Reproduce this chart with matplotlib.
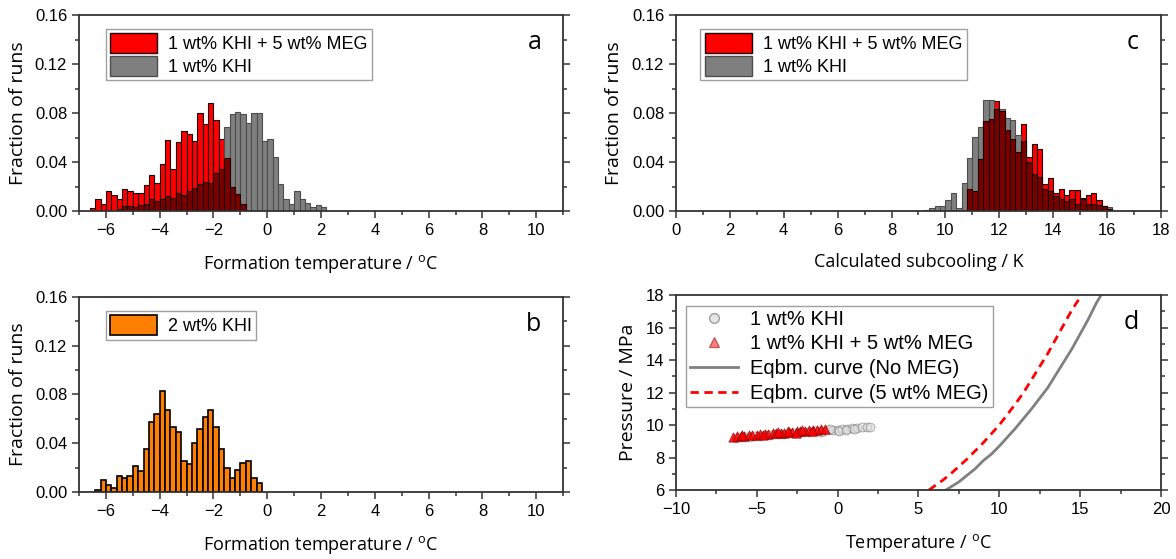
import matplotlib
matplotlib.use("Agg")
import matplotlib.pyplot as plt
import numpy as np
from matplotlib.patches import Patch
from matplotlib.lines import Line2D
from matplotlib.ticker import MultipleLocator, FormatStrFormatter

# histogram bins are 0.2 wide; first bin centre for each data set
BIN = 0.2

# a) formation temperature, 1 wt% KHI + 5 wt% MEG (bins centred -6.5 ... -0.9)
a_meg_start = -6.5
a_meg = [0.0027, 0.0095, 0.006, 0.0163, 0.0128, 0.0095, 0.0177, 0.0163, 0.015, 0.015,
         0.021, 0.0297, 0.0229, 0.038, 0.058, 0.0345, 0.0563, 0.065, 0.063, 0.057,
         0.080, 0.0713, 0.088, 0.0745, 0.059, 0.043, 0.0196, 0.014, 0.006]

# a) formation temperature, 1 wt% KHI (bins centred -5.5 ... 2.1)
a_khi_start = -5.5
a_khi = [0.002, 0.004, 0.004, 0.003, 0.005, 0.006, 0.010, 0.008, 0.010, 0.012,
         0.011, 0.015, 0.013, 0.016, 0.019, 0.022, 0.024, 0.023, 0.031, 0.034,
         0.069, 0.079, 0.081, 0.079, 0.072, 0.080, 0.080, 0.057, 0.059, 0.044,
         0.022, 0.010, 0.006, 0.0166, 0.010, 0.0066, 0.0033, 0.0046, 0.003]

# b) formation temperature, 2 wt% KHI (bins centred -6.3 ... -0.3)
b_start = -6.3
b_khi2 = [0.0016, 0.0098, 0.0055, 0.0036, 0.0134, 0.0112, 0.0134, 0.0216, 0.0175, 0.0355,
          0.0574, 0.0637, 0.0831, 0.0673, 0.0536, 0.0495, 0.0257, 0.023, 0.040, 0.0517,
          0.0612, 0.0675, 0.0536, 0.0355, 0.0194, 0.0112, 0.0178, 0.0235, 0.0257, 0.0112,
          0.0071]

# c) calculated subcooling, 1 wt% KHI + 5 wt% MEG (bins centred 10.9 ... 16.1)
c_meg_start = 10.9
c_meg = [0.0177, 0.016, 0.0427, 0.0732, 0.0748, 0.090, 0.082, 0.066, 0.059, 0.048,
         0.071, 0.044, 0.055, 0.051, 0.022, 0.027, 0.015, 0.018, 0.013, 0.017,
         0.017, 0.011, 0.013, 0.015, 0.009, 0.004, 0.002]

# c) calculated subcooling, 1 wt% KHI (bins centred 9.3 ... 16.1)
c_khi_start = 9.3
c_khi = [0.001, 0.0024, 0.0038, 0.0038, 0.0092, 0.0147, 0.0024, 0.0231, 0.0433, 0.0604,
         0.0686, 0.0909, 0.0909, 0.083, 0.083, 0.076, 0.074, 0.062, 0.057, 0.040,
         0.030, 0.028, 0.018, 0.016, 0.012, 0.010, 0.008, 0.010, 0.006, 0.010,
         0.006, 0.006, 0.005, 0.004, 0.003]

# d) formation points (temperature in C, pressure in MPa)
khi_T = [-6.3, -6.0, -5.7, -5.4, -5.1, -4.8, -4.5, -4.2, -3.9, -3.6, -3.3, -3.0, -2.7,
         -2.4, -2.1, -1.8, -1.5, -1.2, -0.9, -0.6, -0.3, 0.0, 0.3, 0.6, 0.9, 1.2, 1.5,
         1.8, 2.0, -1.4, -1.0, -0.5, 0.1, 0.5, 1.0]
khi_P = [9.21, 9.24, 9.28, 9.29, 9.31, 9.35, 9.36, 9.38, 9.42, 9.44, 9.45, 9.49, 9.50,
         9.53, 9.56, 9.58, 9.60, 9.63, 9.66, 9.68, 9.70, 9.72, 9.75, 9.77, 9.80, 9.83, 9.85,
         9.88, 9.90, 9.66, 9.58, 9.74, 9.66, 9.72, 9.75]
meg_T = [-6.5, -6.2, -6.0, -5.8, -5.5, -5.3, -5.0, -4.8, -4.5, -4.3, -4.0, -3.8, -3.5,
         -3.3, -3.0, -2.8, -2.5, -2.3, -2.0, -1.8, -1.5, -1.3, -1.0, -0.8,
         -5.9, -4.6, -3.7, -3.1, -2.6, -2.2, -1.6]
meg_P = [9.27, 9.30, 9.31, 9.33, 9.36, 9.37, 9.40, 9.42, 9.44, 9.46, 9.48, 9.50, 9.53,
         9.54, 9.57, 9.58, 9.61, 9.63, 9.65, 9.67, 9.70, 9.71, 9.74, 9.76,
         9.38, 9.36, 9.55, 9.66, 9.52, 9.72, 9.62]

# d) hydrate equilibrium curves
eq_T = [6.7, 7.5, 8.0, 8.5, 9.0, 9.5, 10.0, 10.5, 11.0, 11.5, 12.0, 12.5, 13.0, 13.5,
        14.0, 14.5, 15.0, 15.5, 16.0, 16.3]
eq_P = [6.0, 6.5, 6.9, 7.3, 7.8, 8.2, 8.7, 9.25, 9.8, 10.4, 11.0, 11.65, 12.3, 13.1,
        13.9, 14.7, 15.6, 16.5, 17.5, 18.0]
eq_meg_T = [5.65, 6.0, 6.5, 7.0, 7.5, 8.0, 8.5, 9.0, 9.5, 10.0, 10.5, 11.0, 11.5, 12.0,
            12.5, 13.0, 13.5, 14.0, 14.5, 15.1]
eq_meg_P = [6.0, 6.25, 6.6, 7.0, 7.45, 7.9, 8.4, 8.9, 9.45, 10.0, 10.65, 11.3, 12.0, 12.8,
            13.6, 14.4, 15.3, 16.2, 17.1, 18.0]

RED = "#ff0000"
GREY = "#7f7f7f"
DARK = "#7a0000"
ORANGE = "#ff8000"
LBL = "Open Sans"

plt.rcParams["font.family"] = ["Liberation Sans", "DejaVu Sans"]
plt.rcParams["axes.linewidth"] = 1.3
plt.rcParams["axes.edgecolor"] = "#333333"


def centres(start, vals):
    return start + BIN * np.arange(len(vals))


def style_axes(ax, xmaj, xmin, ymaj, ymin):
    ax.xaxis.set_major_locator(MultipleLocator(xmaj))
    ax.xaxis.set_minor_locator(MultipleLocator(xmin))
    ax.yaxis.set_major_locator(MultipleLocator(ymaj))
    ax.yaxis.set_minor_locator(MultipleLocator(ymin))
    ax.tick_params(which="both", direction="out", right=True, top=False,
                   labelsize=12, width=1.1, color="#333333")
    ax.tick_params(which="major", length=5)
    ax.tick_params(which="minor", length=3)


def overlap_hist(ax, meg_start, meg, khi_start, khi):
    xm = centres(meg_start, meg)
    xk = centres(khi_start, khi)
    ax.bar(xm, meg, width=BIN, color=RED, edgecolor="#1a0000", linewidth=0.8)
    ax.bar(xk, khi, width=BIN, color=GREY, edgecolor="#4d4d4d", linewidth=0.8)
    # the shared part of both distributions
    both = dict(zip(np.round(xm, 1), meg))
    ox, oy = [], []
    for x, v in zip(np.round(xk, 1), khi):
        if x in both:
            ox.append(x)
            oy.append(min(v, both[x]))
    ax.bar(ox, oy, width=BIN, color=DARK, edgecolor="#1a0000", linewidth=0.8)


def hist_legend(ax, loc_x):
    handles = [Patch(facecolor=RED, edgecolor="#1a0000"),
               Patch(facecolor=GREY, edgecolor="#4d4d4d")]
    ax.legend(handles, ["1 wt% KHI + 5 wt% MEG", "1 wt% KHI"], loc="upper left",
              bbox_to_anchor=(loc_x, 0.93), fontsize=13, fancybox=False,
              edgecolor="#888888", handlelength=2.6, handleheight=1.3,
              borderpad=0.25, labelspacing=0.15, handletextpad=0.6, borderaxespad=0)


def panel_letter(ax, s):
    ax.text(0.955, 0.86, s, transform=ax.transAxes, family=LBL, fontsize=18,
            ha="right", va="center")


def frac_axes(ax, xlabel):
    ax.set_ylim(0, 0.16)
    ax.yaxis.set_major_formatter(FormatStrFormatter("%.2f"))
    ax.set_xlabel(xlabel, family=LBL, fontsize=13, labelpad=11)
    ax.set_ylabel("Fraction of runs", family=LBL, fontsize=14, labelpad=6)


fig = plt.figure(figsize=(11.76, 5.59), dpi=100)
ax_a = fig.add_axes([0.0672, 0.6225, 0.4116, 0.3506])
ax_b = fig.add_axes([0.0672, 0.1199, 0.4116, 0.3488])
ax_c = fig.add_axes([0.5748, 0.6225, 0.4124, 0.3506])
ax_d = fig.add_axes([0.5748, 0.1234, 0.4124, 0.3488])

temp_label = "Formation temperature / $^{\\mathregular{o}}$C"

# a
overlap_hist(ax_a, a_meg_start, a_meg, a_khi_start, a_khi)
ax_a.set_xlim(-7, 11)
style_axes(ax_a, 2, 1, 0.04, 0.02)
frac_axes(ax_a, temp_label)
hist_legend(ax_a, 0.055)
panel_letter(ax_a, "a")

# b
ax_b.bar(centres(b_start, b_khi2), b_khi2, width=BIN, color=ORANGE,
         edgecolor="black", linewidth=1.2)
ax_b.set_xlim(-7, 11)
style_axes(ax_b, 2, 1, 0.04, 0.02)
frac_axes(ax_b, temp_label)
ax_b.legend([Patch(facecolor=ORANGE, edgecolor="black", linewidth=1.2)], ["2 wt% KHI"],
            loc="upper left", bbox_to_anchor=(0.055, 0.93), fontsize=13, fancybox=False,
            edgecolor="#888888", handlelength=2.6, handleheight=1.3, borderpad=0.25,
            handletextpad=0.6, borderaxespad=0)
panel_letter(ax_b, "b")

# c
overlap_hist(ax_c, c_meg_start, c_meg, c_khi_start, c_khi)
ax_c.set_xlim(0, 18)
style_axes(ax_c, 2, 1, 0.04, 0.02)
frac_axes(ax_c, "Calculated subcooling / K")
hist_legend(ax_c, 0.05)
panel_letter(ax_c, "c")

# d
ax_d.scatter(khi_T, khi_P, s=40, marker="o", facecolor="#dcdcdc", edgecolor="#7a7a7a",
             linewidth=0.7, alpha=0.6, zorder=3)
ax_d.scatter(meg_T, meg_P, s=45, marker="^", facecolor=RED, edgecolor="#8b0000",
             linewidth=0.5, alpha=0.85, zorder=4)
ax_d.plot(eq_T, eq_P, color="#808080", linewidth=2.0, zorder=2)
ax_d.plot(eq_meg_T, eq_meg_P, color=RED, linewidth=2.0, dashes=(3, 2), zorder=2)
ax_d.set_xlim(-10, 20)
ax_d.set_ylim(6, 18)
style_axes(ax_d, 5, 2.5, 2, 1)
ax_d.set_xlabel("Temperature / $^{\\mathregular{o}}$C", family=LBL, fontsize=13, labelpad=11)
ax_d.set_ylabel("Pressure / MPa", family=LBL, fontsize=14, labelpad=6)
d_handles = [
    Line2D([], [], linestyle="none", marker="o", markersize=7, markerfacecolor="#dcdcdc",
           markeredgecolor="#7a7a7a", alpha=0.7),
    Line2D([], [], linestyle="none", marker="^", markersize=7, markerfacecolor=RED,
           markeredgecolor="#8b0000", alpha=0.5),
    Line2D([], [], color="#808080", linewidth=2.0),
    Line2D([], [], color=RED, linewidth=2.0, dashes=(3, 2)),
]
ax_d.legend(d_handles, ["1 wt% KHI", "1 wt% KHI + 5 wt% MEG", "Eqbm. curve (No MEG)",
                        "Eqbm. curve (5 wt% MEG)"],
            loc="upper left", bbox_to_anchor=(0.02, 0.945), fontsize=14.5, fancybox=False,
            edgecolor="#888888", handlelength=2.4, borderpad=0.2, labelspacing=0.28,
            handletextpad=0.6, borderaxespad=0)
panel_letter(ax_d, "d")

fig.savefig("out.png", dpi=100)
